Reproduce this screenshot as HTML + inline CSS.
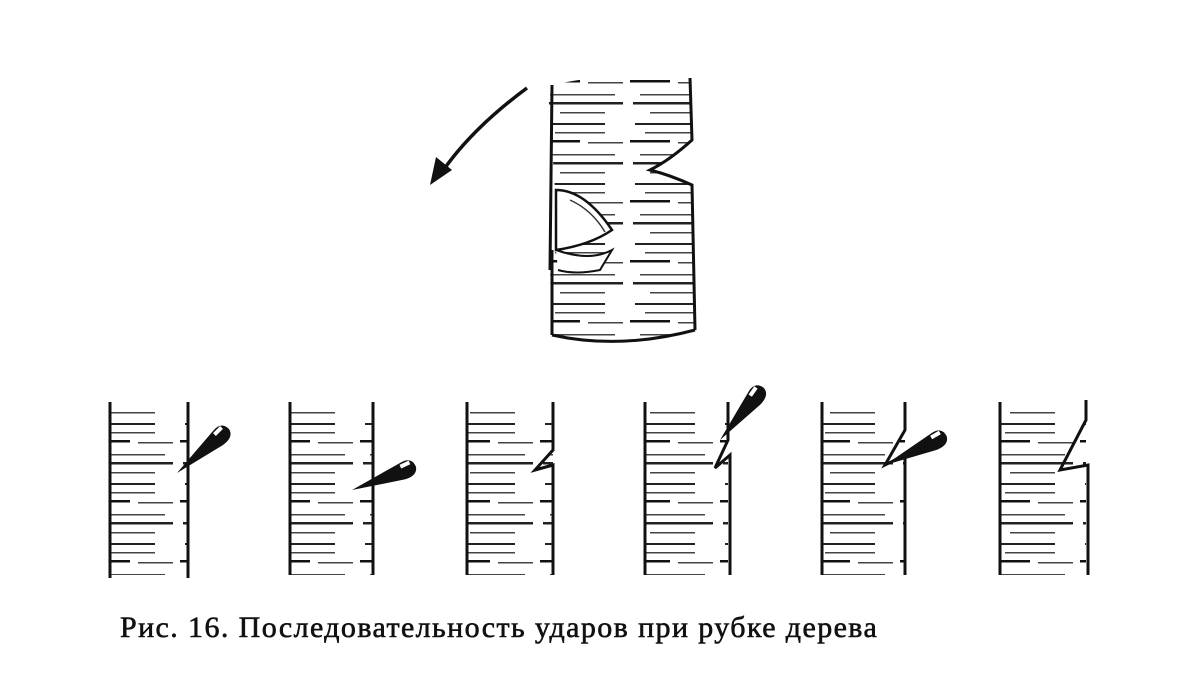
<!DOCTYPE html>
<html><head><meta charset="utf-8"><style>
html,body{margin:0;padding:0;background:#fff;width:1200px;height:689px;overflow:hidden}
.cap{position:absolute;left:120px;top:611px;font-family:"Liberation Serif",serif;font-size:30px;color:#111;white-space:nowrap;letter-spacing:1.4px;-webkit-text-stroke:0.6px #111}
</style></head><body>
<svg width="1200" height="689" style="position:absolute;left:0;top:0">
<defs>
<pattern id="h" width="90" height="60" patternUnits="userSpaceOnUse">
<rect x="5" y="3" width="60" height="2" fill="#222"/>
<rect x="15" y="12" width="50" height="1.5" fill="#444"/>
<rect x="0" y="20" width="40" height="2.5" fill="#111"/>
<rect x="48" y="22" width="35" height="1.5" fill="#444"/>
<rect x="10" y="34" width="65" height="1.5" fill="#444"/>
<rect x="3" y="42" width="80" height="2.5" fill="#222"/>
<rect x="20" y="52" width="45" height="1.5" fill="#444"/>
</pattern>
<g id="knife"><path d="M0 0 L36 -42 Q44 -52 52 -44 Q57 -36 46 -28 Z" fill="#111"/><rect x="36" y="-44" width="10" height="4" fill="#fff" transform="rotate(-45 41 -42)"/></g>
</defs>
<path d="M548 90 L552 85 Q620 70 690 78 L692 140 Q670 160 650 170 Q670 175 692 185 L695 330 Q620 350 552 335 L550 270 L552 250 Q575 235 600 225 Q575 205 555 190 Z" fill="url(#h)"/>
<path d="M552 85 L550 270 M552 250 L552 335" stroke="#111" stroke-width="3" fill="none"/>
<path d="M690 78 L692 140 Q670 160 650 170 Q670 175 692 185 L695 330" stroke="#111" stroke-width="3" fill="none"/>
<path d="M556 190 Q585 190 612 230 Q590 245 556 250 Z" fill="#fff" stroke="#111" stroke-width="2.5"/>
<path d="M570 200 Q592 210 605 232" stroke="#333" stroke-width="1.5" fill="none"/>
<path d="M556 250 Q590 262 612 250 L600 270 Q575 275 558 270" fill="#fff" stroke="#111" stroke-width="2"/>
<path d="M552 335 Q620 350 695 330" stroke="#111" stroke-width="3" fill="none"/>
<path d="M527 88 Q470 130 440 175" stroke="#111" stroke-width="3.5" fill="none"/>
<path d="M430 185 L436 157 L452 170 Z" fill="#111"/>
<g>
<rect x="110" y="405" width="78" height="170" fill="url(#h)"/>
<path d="M110 402 V578 M188 402 V578" stroke="#111" stroke-width="3"/>
<use href="#knife" x="177" y="473"/>
</g>
<g>
<rect x="290" y="405" width="83" height="170" fill="url(#h)"/>
<path d="M290 402 V575 M373 402 V575" stroke="#111" stroke-width="3"/>
<use href="#knife" x="352" y="490" transform="rotate(20 352 490)"/>
</g>
<g>
<rect x="467" y="405" width="86" height="170" fill="url(#h)"/>
<path d="M467 402 V575 M553 402 L553 450 L535 470 L553 465 V575" stroke="#111" stroke-width="3" fill="none"/>
</g>
<g>
<rect x="645" y="405" width="83" height="170" fill="url(#h)"/>
<path d="M645 402 V575 M728 402 L728 440 L715 468 L730 455 V575" stroke="#111" stroke-width="3" fill="none"/>
<use href="#knife" x="720" y="440" transform="rotate(-10 720 440)"/>
</g>
<g>
<rect x="822" y="405" width="83" height="170" fill="url(#h)"/>
<path d="M822 402 V575 M905 402 L905 430 L885 465 L905 455 V575" stroke="#111" stroke-width="3" fill="none"/>
<use href="#knife" x="885" y="465" transform="rotate(15 885 465)"/>
</g>
<g>
<rect x="1000" y="405" width="86" height="170" fill="url(#h)"/>
<path d="M1000 402 V575 M1086 400 L1086 420 L1060 470 L1088 465 V575" stroke="#111" stroke-width="3" fill="none"/>
</g>
</svg>
<div class="cap">Рис. 16. Последовательность ударов при рубке дерева</div>
</body></html>
